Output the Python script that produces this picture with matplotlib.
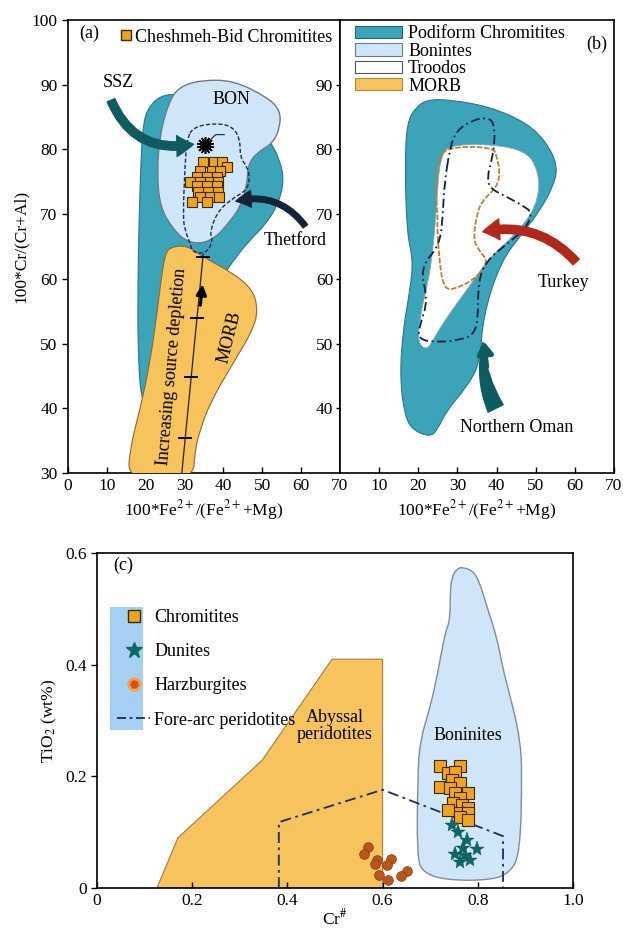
import numpy as np
import matplotlib
matplotlib.use("Agg")
import matplotlib.pyplot as plt
from matplotlib.path import Path
from matplotlib.patches import PathPatch, Polygon, FancyArrowPatch, Rectangle, Patch
from matplotlib.lines import Line2D

plt.rcParams['font.family'] = ['Liberation Serif', 'DejaVu Serif']
plt.rcParams['mathtext.fontset'] = 'stix'

# ---------------- panel (a) data ----------------
# Cheshmeh-Bid chromitites, 100*Fe2+/(Fe2++Mg) vs 100*Cr/(Cr+Al)
chr_a_x = [34.8, 37.6, 39.6, 40.8, 34.0, 37.0, 39.1, 33.1, 35.7, 38.3, 31.4, 34.0, 36.5,
           38.7, 33.1, 35.7, 38.3, 33.5, 36.1, 38.7, 34.0, 36.5, 38.9, 31.8, 35.7]
chr_a_y = [78.0, 78.0, 78.0, 77.3, 76.6, 76.6, 76.6, 75.8, 75.8, 75.8, 75.0, 75.0, 75.0,
           75.0, 74.3, 74.3, 74.3, 73.5, 73.5, 73.5, 72.7, 72.7, 72.7, 71.9, 71.9]
ssz_x, ssz_y = 35.3, 80.7

podiform_a_x = [20.6, 23.7, 28.3, 37.8, 46.8, 51.5, 54.6, 55.6, 54.0, 50.7, 46.8, 43.0,
                39.1, 32.7, 26.2, 21.1, 18.8, 18.0, 18.0, 18.3, 18.8, 19.3]
podiform_a_y = [86.4, 88.3, 88.6, 87.7, 84.9, 81.8, 78.4, 75.0, 71.4, 68.3, 66.0, 63.2,
                59.8, 52.1, 42.8, 39.4, 41.3, 49.0, 59.8, 69.1, 78.4, 83.8]
bon_x = [26.2, 28.8, 34.0, 42.5, 51.2, 54.6, 54.6, 52.8, 48.6, 46.3, 46.1, 44.3, 40.9,
         37.8, 34.0, 30.1, 26.8, 23.7, 22.9, 23.7]
bon_y = [87.7, 89.7, 90.7, 90.7, 88.1, 86.1, 83.5, 81.0, 79.5, 77.6, 74.5, 71.0, 68.3,
         66.3, 65.4, 65.9, 67.9, 71.1, 76.4, 82.6]
thetford_x = [32.2, 38.3, 42.5, 44.3, 44.3, 46.1, 46.8, 46.1, 41.7, 38.3, 36.5, 37.3,
              35.8, 32.2, 31.4, 30.1, 29.6, 30.1, 30.6]
thetford_y = [83.5, 84.1, 83.5, 81.5, 78.8, 77.3, 75.7, 73.7, 72.2, 70.2, 67.1, 66.0,
              64.0, 64.0, 65.5, 67.6, 69.6, 77.3, 81.5]
morb_a_x = [26.2, 30.6, 34.7, 42.5, 47.6, 48.9, 47.6, 42.5, 36.5, 34.0, 32.7, 32.2,
            15.4, 16.0, 18.5, 21.1, 22.9, 24.2, 25.0]
morb_a_y = [64.9, 65.2, 63.4, 60.9, 58.3, 55.2, 52.1, 47.0, 40.8, 36.6, 33.6, 28.9,
            28.9, 34.0, 39.7, 47.0, 54.7, 60.9, 63.7]
trend_x = [29.3, 34.8]
trend_y = [30.0, 63.8]
trend_ticks_y = [35.4, 44.8, 54.0, 63.4]

# ---------------- panel (b) data ----------------
podiform_b_x = [17.1, 19.2, 22.2, 28.1, 38.3, 47.8, 52.9, 55.7, 54.4, 51.1, 46.8, 40.9,
                36.5, 35.8, 32.4, 27.3, 24.8, 23.0, 18.7, 16.6, 15.3, 16.1, 17.9, 18.7,
                17.1, 16.6]
podiform_b_y = [84.1, 86.4, 87.7, 87.7, 86.6, 84.1, 81.0, 77.3, 74.2, 70.6, 67.2, 62.5,
                54.1, 47.0, 43.3, 39.7, 36.6, 35.6, 36.6, 38.7, 44.8, 52.1, 58.3, 62.9,
                67.1, 77.3]
troodos_x = [28.1, 46.8, 51.1, 50.3, 44.2, 38.3, 32.4, 27.3, 23.8, 22.2, 19.9, 20.4,
             22.5, 23.8, 24.8, 25.5]
troodos_y = [81.0, 80.4, 76.4, 71.1, 66.5, 63.4, 58.3, 54.1, 50.6, 49.0, 50.1, 54.1,
             59.4, 64.5, 72.2, 78.4]
oman_x = [28.1, 29.9, 34.0, 37.8, 39.3, 39.6, 38.8, 37.6, 38.3, 42.2, 46.5, 49.3, 47.2,
          42.2, 37.6, 35.3, 35.3, 34.0, 30.7, 25.5, 19.9, 20.4, 22.5, 20.4, 25.5, 26.3, 26.6]
oman_y = [80.4, 83.0, 84.6, 84.9, 84.1, 81.5, 78.4, 75.7, 74.0, 72.8, 71.4, 70.2, 67.6,
          65.2, 62.9, 59.8, 53.6, 51.3, 50.6, 50.2, 50.6, 52.9, 56.7, 61.7, 65.2, 69.9, 74.2]
turkey_x = [27.3, 39.1, 40.1, 40.9, 40.1, 36.5, 35.0, 34.0, 35.8, 37.6, 36.5, 34.0,
            29.9, 27.3, 26.1, 25.5, 24.8, 25.0, 24.3, 25.0]
turkey_y = [80.4, 80.4, 78.8, 76.4, 74.2, 72.2, 70.2, 66.0, 64.2, 62.9, 61.4, 59.8,
            58.6, 58.3, 59.8, 62.5, 67.6, 69.6, 74.8, 78.4]

# ---------------- panel (c) data ----------------
chr_c_x = [0.721, 0.763, 0.737, 0.752, 0.746, 0.721, 0.763, 0.742, 0.752, 0.779, 0.763,
           0.748, 0.767, 0.779, 0.737, 0.763, 0.779, 0.763, 0.779]
chr_c_y = [0.219, 0.219, 0.206, 0.208, 0.194, 0.181, 0.188, 0.179, 0.170, 0.170, 0.161,
           0.152, 0.149, 0.143, 0.140, 0.134, 0.134, 0.127, 0.122]
dun_x = [0.746, 0.758, 0.777, 0.769, 0.798, 0.752, 0.773, 0.784, 0.763]
dun_y = [0.113, 0.100, 0.086, 0.072, 0.070, 0.061, 0.059, 0.050, 0.047]
harz_x = [0.569, 0.561, 0.588, 0.618, 0.584, 0.609, 0.651, 0.592, 0.638, 0.611]
harz_y = [0.073, 0.061, 0.050, 0.052, 0.043, 0.041, 0.030, 0.023, 0.022, 0.014]
abyssal_x = [0.126, 0.170, 0.347, 0.494, 0.600, 0.600]
abyssal_y = [0.0, 0.090, 0.229, 0.410, 0.410, 0.0]
boninite_x = [0.769, 0.794, 0.809, 0.819, 0.840, 0.853, 0.874, 0.889, 0.893, 0.889,
              0.868, 0.826, 0.735, 0.685, 0.672, 0.674, 0.679, 0.700, 0.716, 0.731,
              0.742, 0.742, 0.746, 0.756]
boninite_y = [0.575, 0.566, 0.534, 0.504, 0.450, 0.391, 0.324, 0.265, 0.206, 0.063,
              0.027, 0.014, 0.014, 0.027, 0.056, 0.206, 0.265, 0.324, 0.385, 0.457,
              0.480, 0.534, 0.557, 0.572]
forearc_x = [0.382, 0.382, 0.600, 0.853, 0.853]
forearc_y = [0.0, 0.118, 0.176, 0.093, 0.0]

TEAL = '#3ba4b8'
BLUE = '#cfe5f8'
ORANGE = '#f6c35c'
SQ = '#f0a31e'
NAVY = '#1b2a6b'
DARKTEAL = '#0f5c60'


def smooth_patch(xs, ys, **kw):
    pts = np.column_stack([xs, ys])
    mids = (pts + np.roll(pts, -1, axis=0)) / 2
    verts = [mids[-1]]
    codes = [Path.MOVETO]
    for i in range(len(pts)):
        verts += [pts[i], mids[i]]
        codes += [Path.CURVE3, Path.CURVE3]
    verts.append(mids[-1])
    codes.append(Path.CLOSEPOLY)
    return PathPatch(Path(verts, codes), **kw)


fig = plt.figure(figsize=(6.23, 9.33), dpi=100)
ax_a = fig.add_axes([0.1091, 0.4930, 0.4366, 0.4855])
ax_b = fig.add_axes([0.5457, 0.4930, 0.4398, 0.4855])
ax_c = fig.add_axes([0.1557, 0.0482, 0.7640, 0.3590])

for ax in (ax_a, ax_b, ax_c):
    for s in ax.spines.values():
        s.set_linewidth(1.2)
    ax.tick_params(labelsize=12.5, width=1, length=4)
    ax.tick_params(axis='x', direction='in')
    ax.tick_params(axis='y', direction='out')

# ---------------- panel (a) ----------------
ax_a.add_patch(smooth_patch(podiform_a_x, podiform_a_y, fc=TEAL, ec='#2d7484', lw=0.8, zorder=1))
ax_a.add_patch(smooth_patch(bon_x, bon_y, fc=BLUE, ec='#6b7a88', lw=1.0, zorder=2))
ax_a.add_patch(smooth_patch(morb_a_x, morb_a_y, fc=ORANGE, ec='#8a6a30', lw=0.8, zorder=3))
ax_a.add_patch(smooth_patch(thetford_x, thetford_y, fc='none', ec=NAVY, lw=1.0, ls=(0, (3, 1.5)), zorder=4))

ax_a.plot(trend_x, trend_y, color='#222222', lw=0.9, zorder=5)
slope = (trend_x[1] - trend_x[0]) / (trend_y[1] - trend_y[0])
for ty in trend_ticks_y:
    tx = trend_x[0] + (ty - trend_y[0]) * slope
    ax_a.plot([tx - 1.6, tx + 1.6], [ty, ty], color='black', lw=1.4, zorder=5)
ax_a.annotate('', xy=(34.7, 59.6), xytext=(34.0, 55.5),
              arrowprops=dict(arrowstyle='-|>,head_width=0.3,head_length=0.6', lw=2.2, color='black'),
              zorder=6)

ax_a.plot(chr_a_x, chr_a_y, 's', ms=7.5, mfc=SQ, mec='#3b2a0a', mew=0.8, zorder=7)
ax_a.plot([ssz_x, 38.0, 40.2], [ssz_y, 82.3, 82.3], color='#333333', lw=0.9, zorder=6)
ax_a.plot(ssz_x, ssz_y, marker=(14, 2, 0), ms=12, color='black', mew=1.2, zorder=8)
ax_a.plot(ssz_x, ssz_y, 'o', ms=5, color='black', zorder=8)

ax_a.add_patch(FancyArrowPatch((10.8, 88.0), (33.0, 80.9), connectionstyle='arc3,rad=0.42',
                               arrowstyle='simple,head_length=0.6,head_width=0.75,tail_width=0.3',
                               mutation_scale=20, color=DARKTEAL, zorder=9))
ax_a.add_patch(FancyArrowPatch((61.5, 67.8), (42.5, 71.9), connectionstyle='arc3,rad=0.35',
                               arrowstyle='simple,head_length=0.55,head_width=0.6,tail_width=0.2',
                               mutation_scale=20, color='#15223a', zorder=9))

ax_a.text(3.0, 98.0, '(a)', fontsize=13, va='center')
ax_a.text(12.9, 90.4, 'SSZ', fontsize=13, ha='center', va='center')
ax_a.text(42.2, 87.8, 'BON', fontsize=13, ha='center', va='center', zorder=9)
ax_a.text(58.5, 66.0, 'Thetford', fontsize=13, ha='center', va='center')
ax_a.text(41.7, 51.0, 'MORB', fontsize=13, ha='center', va='center', rotation=76, zorder=9)
ax_a.text(26.8, 46.5, 'Increasing source depletion', fontsize=13, ha='center', va='center',
          rotation=85, zorder=9)

leg_a = ax_a.legend(handles=[Line2D([], [], marker='s', ls='none', ms=7, mfc=SQ, mec='#3b2a0a')],
                    labels=['Cheshmeh-Bid Chromitites'], loc='upper left', bbox_to_anchor=(0.15, 1.005),
                    frameon=False, handlelength=0.7, handletextpad=0.15, borderaxespad=0.2, fontsize=13)

ax_a.set_xlim(0, 70)
ax_a.set_ylim(30, 100)
ax_a.set_xticks(range(0, 71, 10))
ax_a.set_yticks(range(30, 101, 10))
ax_a.set_xlabel(r'100*Fe$^{2+}$/(Fe$^{2+}$+Mg)', fontsize=12.5, labelpad=3)
ax_a.set_ylabel('100*Cr/(Cr+Al)', fontsize=12.5, labelpad=2)

# ---------------- panel (b) ----------------
ax_b.add_patch(smooth_patch(podiform_b_x, podiform_b_y, fc=TEAL, ec='#2d7484', lw=0.8, zorder=1))
ax_b.add_patch(smooth_patch(troodos_x, troodos_y, fc='white', ec='#9aa5a8', lw=0.5, zorder=2))
ax_b.add_patch(smooth_patch(turkey_x, turkey_y, fc='none', ec='#c07c3c', lw=1.3, ls=(0, (3, 1)), zorder=3))
ax_b.add_patch(smooth_patch(oman_x, oman_y, fc='none', ec='#142040', lw=1.3, ls=(0, (5, 2, 1, 2)), zorder=4))

ax_b.add_patch(FancyArrowPatch((60.8, 62.3), (35.8, 67.2), connectionstyle='arc3,rad=0.3',
                               arrowstyle='simple,head_length=0.6,head_width=0.75,tail_width=0.3',
                               mutation_scale=20, color='#b0281a', zorder=6))
ax_b.add_patch(FancyArrowPatch((40.1, 39.6), (36.6, 50.6), connectionstyle='arc3,rad=-0.15',
                               arrowstyle='wedge,tail_width=0.6,shrink_factor=0.6',
                               mutation_scale=20, color=DARKTEAL, zorder=6))
ax_b.annotate('', xy=(36.6, 50.8), xytext=(37.6, 46.0),
              arrowprops=dict(arrowstyle='-|>,head_width=0.45,head_length=0.7', lw=3.5, color=DARKTEAL),
              zorder=6)

ax_b.text(65.6, 96.2, '(b)', fontsize=13, ha='center', va='center')
ax_b.text(57.0, 59.4, 'Turkey', fontsize=13, ha='center', va='center')
ax_b.text(45.2, 37.0, 'Northern Oman', fontsize=13, ha='center', va='center')

b_handles = [Patch(fc=TEAL, ec='#2d5f6a', lw=0.8), Patch(fc=BLUE, ec='#6b7a88', lw=0.8),
             Patch(fc='white', ec='#555555', lw=0.8), Patch(fc=ORANGE, ec='#b08a40', lw=0.8)]
ax_b.legend(handles=b_handles, labels=['Podiform Chromitites', 'Bonintes', 'Troodos', 'MORB'],
            loc='upper left', bbox_to_anchor=(0.015, 1.012), frameon=False, fontsize=13,
            handlelength=2.6, handleheight=0.65, handletextpad=0.35, labelspacing=0.02,
            borderaxespad=0.2)

ax_b.set_xlim(0, 70)
ax_b.set_ylim(30, 100)
ax_b.set_xticks(range(10, 71, 10))
ax_b.set_yticks(range(40, 91, 10))
ax_b.set_xlabel(r'100*Fe$^{2+}$/(Fe$^{2+}$+Mg)', fontsize=12.5, labelpad=3)
ax_b.tick_params(axis='y', length=3, pad=2)

# ---------------- panel (c) ----------------
ax_c.add_patch(Polygon(np.column_stack([abyssal_x, abyssal_y]), closed=True, fc=ORANGE,
                       ec='#a08040', lw=0.8, zorder=1))
ax_c.add_patch(smooth_patch(boninite_x, boninite_y, fc=BLUE, ec='#7f8d99', lw=1.0, zorder=1))
ax_c.plot(forearc_x, forearc_y, color=NAVY, lw=1.3, ls=(0, (6, 2.5, 1.5, 2.5)), zorder=2)

ax_c.plot(chr_c_x, chr_c_y, 's', ms=8, mfc=SQ, mec='#3b2a0a', mew=0.8, zorder=4)
ax_c.plot(dun_x, dun_y, '*', ms=11, color='#0b6a66', mec='#0b4a48', mew=0.3, zorder=4)
ax_c.plot(harz_x, harz_y, 'o', ms=7, mfc='#b8561c', mec='#8a3c10', mew=0.5, zorder=4)

ax_c.text(0.034, 0.578, '(c)', fontsize=13, va='center')
ax_c.text(0.50, 0.29, 'Abyssal\nperidotites', fontsize=13, ha='center', va='center', linespacing=1.0)
ax_c.text(0.779, 0.274, 'Boninites', fontsize=13, ha='center', va='center', zorder=5)

ax_c.add_patch(Rectangle((0.027, 0.472), 0.07, 0.367, transform=ax_c.transAxes,
                         fc='#a6d0f3', ec='none', zorder=3))
harz_handle = (Line2D([], [], marker=(16, 2, 0), ls='none', ms=10, color='#f0a050', mew=1.6),
               Line2D([], [], marker='o', ls='none', ms=5, color='#d8501a'))
c_handles = [Line2D([], [], marker='s', ls='none', ms=8, mfc=SQ, mec='#3b2a0a'),
             Line2D([], [], marker='*', ls='none', ms=12, color='#0b6a66'),
             harz_handle,
             Line2D([], [], color=NAVY, lw=1.3, ls=(0, (5, 2, 1.5, 2)))]
ax_c.legend(handles=c_handles, labels=['Chromitites', 'Dunites', 'Harzburgites', 'Fore-arc peridotites'],
            loc='upper left', bbox_to_anchor=(0.02, 0.865), frameon=False, fontsize=13,
            handlelength=1.8, handletextpad=0.25, labelspacing=0.95, borderaxespad=0.2)

ax_c.set_xlim(0, 1.0)
ax_c.set_ylim(0, 0.6)
ax_c.set_xticks([0, 0.2, 0.4, 0.6, 0.8, 1.0])
ax_c.set_xticklabels(['0', '0.2', '0.4', '0.6', '0.8', '1.0'])
ax_c.set_yticks([0, 0.2, 0.4, 0.6])
ax_c.set_yticklabels(['0', '0.2', '0.4', '0.6'])
ax_c.set_xlabel(r'Cr$^{\#}$', fontsize=12.5, labelpad=0)
ax_c.set_ylabel(r'TiO$_2$ (wt%)', fontsize=12.5, labelpad=4)

fig.savefig('out.png', dpi=100)
